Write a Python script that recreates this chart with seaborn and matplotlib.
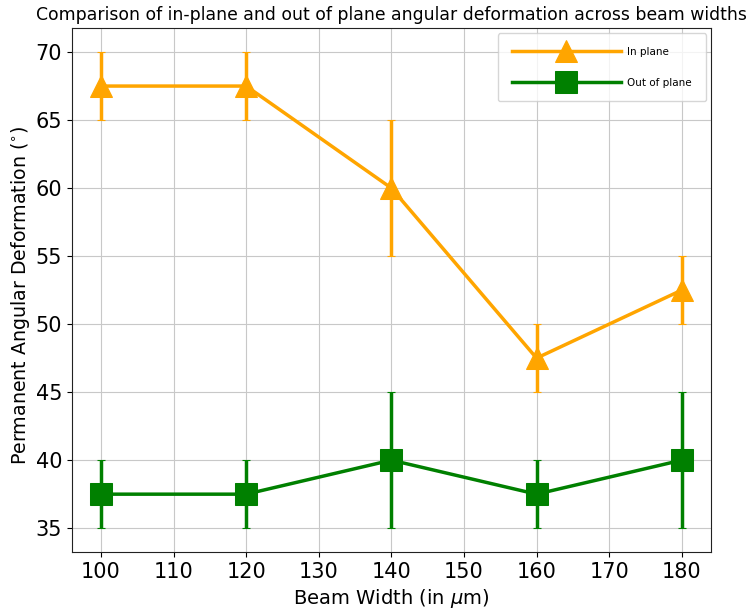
import matplotlib
matplotlib.use("Agg")
import matplotlib.pyplot as plt
import seaborn as sns
import pandas as pd

# Beam widths (µm) and angular deformation measurements (degrees)
beam_width = [100, 120, 140, 160, 180]
in_plane = [67.5, 67.5, 60.0, 47.5, 52.5]
in_plane_err = [2.5, 2.5, 5.0, 2.5, 2.5]
out_of_plane = [37.5, 37.5, 40.0, 37.5, 40.0]
out_of_plane_err = [2.5, 2.5, 5.0, 2.5, 5.0]

series_names = ["In plane", "Out of plane"]
series_colors = ["orange", "green"]
series_markers = ["^", "s"]

df = pd.DataFrame({
    "width": beam_width * 2,
    "deformation": in_plane + out_of_plane,
    "err": in_plane_err + out_of_plane_err,
    "series": [series_names[0]] * len(beam_width) + [series_names[1]] * len(beam_width),
})

fig = plt.figure(figsize=(7.49, 6.14), dpi=100)
ax = fig.add_axes([0.096, 0.101, 0.853, 0.853])

for name, color, marker in zip(series_names, series_colors, series_markers):
    sub = df[df["series"] == name]
    ax.errorbar(sub["width"], sub["deformation"], yerr=sub["err"],
                fmt="none", ecolor=color, elinewidth=2.5, capsize=3,
                capthick=0.8, zorder=2)
    sns.lineplot(data=sub, x="width", y="deformation", ax=ax, color=color,
                 marker=marker, markersize=16, markeredgecolor=color,
                 linewidth=2.5, label=name, zorder=3)

ax.grid(True, color="#c8c8c8", linewidth=0.8)
ax.set_axisbelow(True)
for sp in ax.spines.values():
    sp.set_color("#222222")
ax.set_xticks([100, 110, 120, 130, 140, 150, 160, 170, 180])
ax.set_yticks([35, 40, 45, 50, 55, 60, 65, 70])
ax.tick_params(labelsize=15)
ax.set_xlabel(r"Beam Width (in $\mu$m)", fontsize=14)
ax.set_ylabel(r"Permanent Angular Deformation ($^{\circ}$)", fontsize=13.7)
ax.yaxis.set_label_coords(-0.063, 0.49)
ax.set_title("Comparison of in-plane and out of plane angular deformation across beam widths",
             fontsize=12.4)
ax.legend(loc="upper right", fontsize=7.5, handlelength=10.5, labelspacing=2.0,
          borderpad=1.3, handletextpad=0.6, borderaxespad=0.5)

fig.savefig("out.png", dpi=100)
